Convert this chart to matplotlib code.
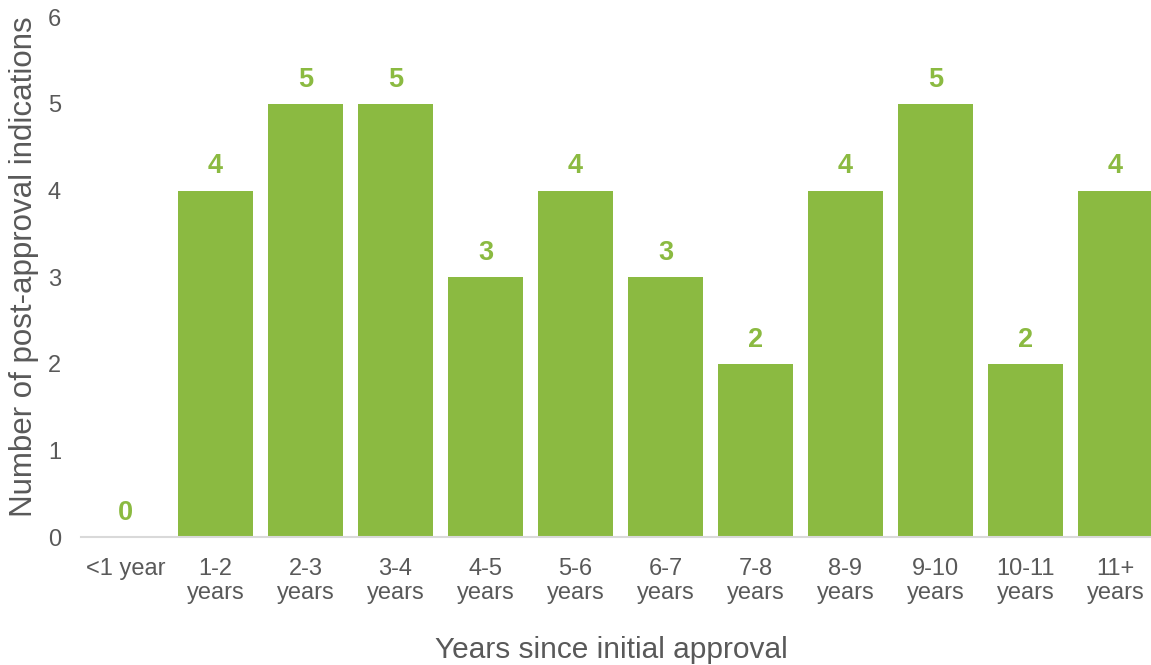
import matplotlib
matplotlib.use("Agg")
import matplotlib.pyplot as plt

categories = ["<1 year", "1-2\nyears", "2-3\nyears", "3-4\nyears", "4-5\nyears", "5-6\nyears",
              "6-7\nyears", "7-8\nyears", "8-9\nyears", "9-10\nyears", "10-11\nyears", "11+\nyears"]
values = [0, 4, 5, 5, 3, 4, 3, 2, 4, 5, 2, 4]
yticks = [0, 1, 2, 3, 4, 5, 6]

plt.rcParams['font.family'] = ['Liberation Sans', 'DejaVu Sans']
green = "#8BBA41"
gray = "#595959"

fig = plt.figure(figsize=(11.51, 6.65), dpi=100)
ax = fig.add_axes([80.5/1151, 128/665, 1080/1151, 519.6/665])
x = list(range(len(categories)))
ax.bar(x, values, width=0.83, color=green)
for xi, v in zip(x, values):
    ax.text(xi, v + 0.28, str(v), ha='center', va='center', color=green,
            fontsize=19.5, fontweight='bold')
ax.set_xlim(-0.5, len(categories) - 0.5)
ax.set_ylim(0, 6)
ax.set_yticks(yticks)
ax.set_xticks(x)
ax.set_xticklabels(categories, linespacing=1.15)
ax.tick_params(axis='both', length=0, colors=gray, labelsize=17)
ax.tick_params(axis='y', pad=14)
ax.tick_params(axis='x', pad=15)
for s in ['top', 'right', 'left']:
    ax.spines[s].set_visible(False)
ax.spines['bottom'].set_color('#D9D9D9')
ax.spines['bottom'].set_linewidth(1.5)
ax.set_ylabel("Number of post-approval indications", fontsize=22.5, color=gray, labelpad=6)
ax.set_xlabel("Years since initial approval", fontsize=21.5, color=gray, labelpad=23)
ax.yaxis.label.set_y(0.52)
ax.xaxis.label.set_x(0.492)
fig.savefig("out.png", dpi=100)
